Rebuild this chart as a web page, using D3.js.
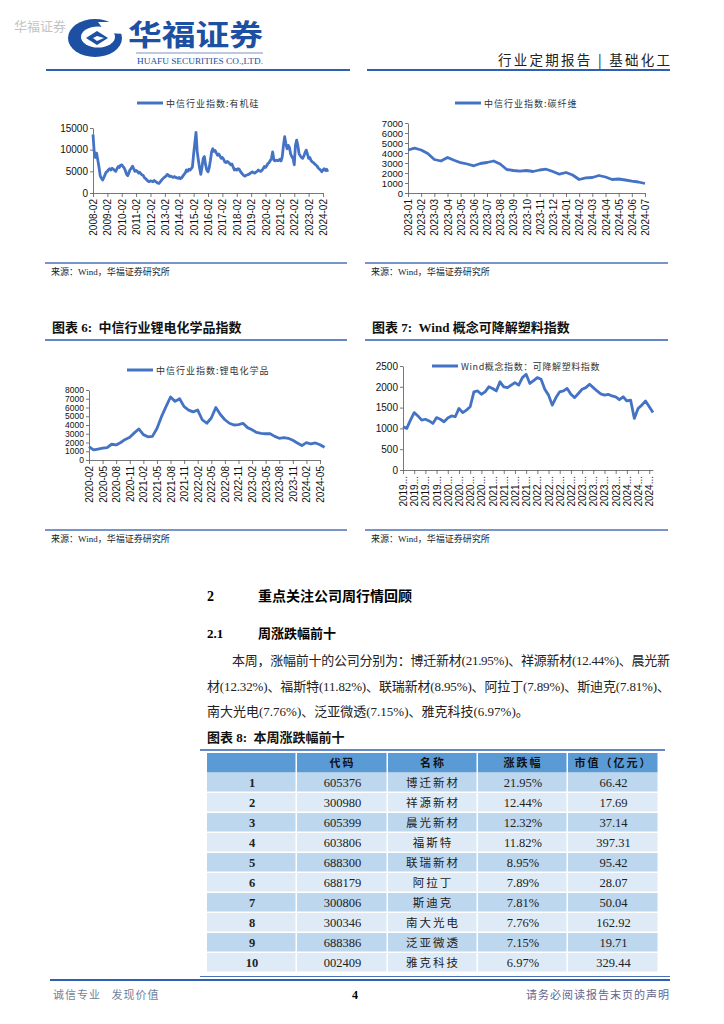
<!DOCTYPE html>
<html>
<head>
<meta charset="utf-8">
<script src="https://cdn.jsdelivr.net/npm/d3@7"></script>
<style>
  body { margin: 0; background: #fff; }
  svg { display: block; }
  text { white-space: pre; }
</style>
</head>
<body>
<script>
// ---- 数据 ----
// 有机硅 (月度, 2008-02 起)
var organicVals = [
  13500, 9500, 8200, 9200, 7600, 6000, 4000, 3400, 3000, 3500, 4200,
  4800, 5000, 5400, 5600, 5300, 5700, 5500, 5200, 5000, 5600, 6100, 5900,
  6400, 6500, 6100, 5800, 5200, 4300, 4000, 4700, 5400, 5700, 6200, 5600,
  5000, 5200, 5000, 4600, 4800, 4400, 4200, 4000, 3500, 3300, 3000, 2700,
  2600, 2800, 2700, 2600, 2900, 2700, 2500, 2300, 2200, 2500, 2900, 3200,
  3500, 3700, 3900, 4300, 4100, 3800, 3900, 3700, 3600, 3800, 3600, 3500,
  3400, 3600, 3300, 3500, 3900, 4300, 4600, 5300, 5000, 5500, 5300, 5600,
  6000, 9000, 11500, 14000, 9500, 7500, 5700, 4300, 6000, 8000, 8400, 6500,
  5300, 4900, 5800, 7500, 9500, 10200, 9600, 9800, 9200, 8700, 9000, 8500,
  8000, 8200, 7800, 7200, 7000, 7300, 7100, 6800, 6500, 6700, 6000, 5300,
  5500, 5300, 5600, 5500, 5000, 4600, 4300, 4000, 3900, 4100, 4200, 4300,
  4500, 4700, 4900, 4700, 4600, 4800, 5000, 5300, 5100, 5000, 5200, 5600,
  6100, 5900, 6300, 6800, 7000, 7500, 8000, 9500, 7600, 7400, 7600, 7500,
  7500, 7800, 7400, 8400, 11000, 13000, 11400, 10200, 11000, 10500, 9000, 8400,
  8000, 6500, 11000, 12200, 11000, 9100, 8600, 8200, 8000, 8500, 9300, 9900,
  9000, 8000, 8200, 7500, 7200, 7000, 6700, 6500, 6200, 5800, 5500, 5300,
  4900, 5300, 5600, 5200, 5500, 4900
];
var organicLabels = ['2008-02', '2009-02', '2010-02', '2011-02', '2012-02', '2013-02', '2014-02', '2015-02',
  '2016-02', '2017-02', '2018-02', '2019-02', '2020-02', '2021-02', '2022-02', '2023-02', '2024-02'];
var organicTicks = [0, 5000, 10000, 15000];

// 碳纤维 (半月, 2023-01 起)
var carbonVals = [
  4300, 4480, 4300, 3950, 3350, 3200, 3550, 3280, 3030, 2900, 2720, 2950,
  3050, 3200, 2900, 2350, 2250, 2180, 2250, 2150, 2300, 2380, 2150, 1880,
  2050, 1800, 1350, 1520, 1550, 1750, 1600, 1350, 1400, 1300, 1180, 1100, 950
];
var carbonLabels = ['2023-01', '2023-02', '2023-03', '2023-04', '2023-05', '2023-06', '2023-07', '2023-08',
  '2023-09', '2023-10', '2023-11', '2023-12', '2024-01', '2024-02', '2024-03', '2024-04', '2024-05',
  '2024-06', '2024-07'];
var carbonTicks = [0, 1000, 2000, 3000, 4000, 5000, 6000, 7000];

// 锂电化学品 (月度, 2020-02 起)
var lithiumVals = [
  1520, 1150, 1250, 1350, 1420, 1800, 1720, 2000, 2350, 2600, 3100, 3550,
  2900, 2650, 2700, 3600, 4950, 6100, 7200, 6700, 7000, 6100, 5700, 5500,
  5710, 4600, 4200, 4800, 6000, 5200, 4600, 4200, 4000, 4050, 4190, 3700,
  3450, 3150, 3050, 3000, 3000, 2700, 2480, 2550, 2480, 2250, 1950, 1650,
  1980, 1830, 1950, 1750, 1450
];
var lithiumLabels = ['2020-02', '2020-05', '2020-08', '2020-11', '2021-02', '2021-05', '2021-08', '2021-11',
  '2022-02', '2022-05', '2022-08', '2022-11', '2023-02', '2023-05', '2023-08', '2023-11', '2024-02', '2024-05'];
var lithiumTicks = [0, 1000, 2000, 3000, 4000, 5000, 6000, 7000, 8000];

// 可降解塑料 (月度, 2019-01 起)
var plasticVals = [
  1040, 1000, 1200, 1380, 1300, 1200, 1220, 1180, 1120, 1260, 1220, 1160,
  1250, 1300, 1280, 1480, 1380, 1440, 1520, 1880, 1900, 1820, 1880, 2000,
  1960, 1900, 2120, 2000, 1980, 2040, 2100, 2040, 2220, 2300, 2080, 2150,
  2220, 2180, 1940, 1800, 1560, 1740, 1880, 1900, 1960, 1820, 1740, 1840,
  1940, 1980, 2060, 1980, 1900, 1830, 1800, 1820, 1780, 1760, 1690, 1760,
  1660, 1680, 1240, 1480, 1560, 1660, 1520, 1380
];
var plasticLabels = ['2019...', '2019...', '2019...', '2019...', '2020...', '2020...', '2020...', '2020...',
  '2021...', '2021...', '2021...', '2021...', '2022...', '2022...', '2022...', '2022...',
  '2023...', '2023...', '2023...', '2023...', '2024...', '2024...', '2024...'];
var plasticTicks = [0, 500, 1000, 1500, 2000, 2500];

// 表格
var ranks = ['1', '2', '3', '4', '5', '6', '7', '8', '9', '10'];
var codes = ['605376', '300980', '605399', '603806', '688300', '688179', '300806', '300346', '688386', '002409'];
var names = ['博迁新材', '祥源新材', '晨光新材', '福斯特', '联瑞新材', '阿拉丁', '斯迪克', '南大光电', '泛亚微透', '雅克科技'];
var changes = ['21.95%', '12.44%', '12.32%', '11.82%', '8.95%', '7.89%', '7.81%', '7.76%', '7.15%', '6.97%'];
var caps = ['66.42', '17.69', '37.14', '397.31', '95.42', '28.07', '50.04', '162.92', '19.71', '329.44'];
var headers = ['', '代码', '名称', '涨跌幅', '市值（亿元）'];

var serif = '"Liberation Serif", "Noto Sans CJK SC", serif';
var sans = '"Liberation Sans", Arial, sans-serif';
var cjk = '"Noto Sans CJK SC", sans-serif';
var lineColor = '#4472c4';
var blue = '#2f5fb3';
var logoBlue = '#1d4fa3';

var svg = d3.select('body').append('svg')
  .attr('width', 724)
  .attr('height', 1024);

// ---- 页眉 ----
svg.append('text').attr('x', 14).attr('y', 31)
  .style('font-family', cjk).style('font-size', '13px').style('fill', '#c4c4c4')
  .text('华福证券');

var logo = svg.append('g');
logo.append('ellipse').attr('cx', 95).attr('cy', 38).attr('rx', 27).attr('ry', 19).attr('fill', logoBlue);
logo.append('ellipse').attr('cx', 98).attr('cy', 37).attr('rx', 17).attr('ry', 10.5).attr('fill', '#fff');
logo.append('polygon').attr('points', '98,22 126,22 126,34 106,33').attr('fill', '#fff');
logo.append('polygon').attr('points', '86,38 97,31 108,38 97,45').attr('fill', logoBlue);
logo.append('polygon').attr('points', '97,36 104,38 97,41 93,38').attr('fill', '#fff');

svg.append('text').attr('x', 128).attr('y', 46)
  .attr('textLength', 135).attr('lengthAdjust', 'spacingAndGlyphs')
  .style('font-family', cjk).style('font-weight', 'bold').style('font-size', '29px').style('fill', logoBlue)
  .text('华福证券');
svg.append('line').attr('x1', 136).attr('x2', 263).attr('y1', 53).attr('y2', 53)
  .attr('stroke', '#7d93bf').attr('stroke-width', 1);
svg.append('text').attr('x', 137).attr('y', 64)
  .attr('textLength', 126).attr('lengthAdjust', 'spacingAndGlyphs')
  .style('font-family', serif).style('font-size', '8.5px').style('fill', logoBlue)
  .text('HUAFU SECURITIES CO.,LTD.');

svg.append('text').attr('x', 498).attr('y', 65)
  .attr('textLength', 172).attr('lengthAdjust', 'spacing')
  .style('font-family', cjk).style('font-size', '13.5px').style('fill', '#222')
  .text('行业定期报告 | 基础化工');

svg.append('line').attr('x1', 46).attr('x2', 350).attr('y1', 70).attr('y2', 70)
  .attr('stroke', blue).attr('stroke-width', 2);
svg.append('line').attr('x1', 367).attr('x2', 670).attr('y1', 70).attr('y2', 70)
  .attr('stroke', blue).attr('stroke-width', 2);

// ---- 折线图 ----
function lineChart(cfg) {
  var g = svg.append('g');
  var x = d3.scaleLinear().domain(cfg.xDomain).range(cfg.xRange);
  var y = d3.scaleLinear().domain([0, cfg.yTicks[cfg.yTicks.length - 1]]).range(cfg.yRange);

  var ya = g.append('g')
    .attr('transform', 'translate(' + cfg.xRange[0] + ',0)')
    .call(d3.axisLeft(y).tickValues(cfg.yTicks).tickFormat(d3.format('d'))
      .tickSize(3).tickSizeOuter(0).tickPadding(2));

  var xa = g.append('g')
    .attr('transform', 'translate(0,' + cfg.yRange[0] + ')')
    .call(d3.axisBottom(x)
      .tickValues(cfg.xLabels.map(function (d, i) { return i * cfg.labelStep; }))
      .tickFormat(function (d, i) { return cfg.xLabels[i]; })
      .tickSize(4).tickSizeOuter(0));

  xa.selectAll('text')
    .attr('transform', 'rotate(-90)')
    .attr('x', -6).attr('y', 0).attr('dy', '0.35em')
    .style('text-anchor', 'end');

  [ya, xa].forEach(function (a) {
    a.selectAll('path, line').attr('stroke', '#555').attr('stroke-width', 0.8);
    a.selectAll('text').style('font-family', sans).style('font-size', '10px').style('fill', '#111');
  });
  ya.selectAll('text').style('font-size', cfg.yFont + 'px');

  g.append('path')
    .datum(cfg.values)
    .attr('fill', 'none')
    .attr('stroke', lineColor)
    .attr('stroke-width', 2.8)
    .attr('stroke-linejoin', 'round')
    .attr('d', d3.line()
      .x(function (d, i) { return x(i * cfg.step); })
      .y(function (d) { return y(d); }));

  g.append('line')
    .attr('x1', cfg.legend[0]).attr('x2', cfg.legend[0] + 26)
    .attr('y1', cfg.legend[1]).attr('y2', cfg.legend[1])
    .attr('stroke', lineColor).attr('stroke-width', 3);
  g.append('text')
    .attr('x', cfg.legend[0] + 29).attr('y', cfg.legend[1] + 3.5)
    .style('font-family', cjk).style('font-size', '9px').style('letter-spacing', cfg.spacing + 'px')
    .style('fill', '#333')
    .text(cfg.name);
}

lineChart({
  values: organicVals, step: 1, labelStep: 12, xLabels: organicLabels,
  xDomain: [0, 192], xRange: [93, 323], yTicks: organicTicks, yRange: [193, 128], yFont: 10,
  legend: [137, 103], name: '中信行业指数:有机硅', spacing: 1
});
lineChart({
  values: carbonVals, step: 0.5, labelStep: 1, xLabels: carbonLabels,
  xDomain: [0, 18], xRange: [408, 645], yTicks: carbonTicks, yRange: [193, 123], yFont: 9.5,
  legend: [455, 103], name: '中信行业指数:碳纤维', spacing: 1
});
lineChart({
  values: lithiumVals, step: 1, labelStep: 3, xLabels: lithiumLabels,
  xDomain: [0, 51], xRange: [89, 320], yTicks: lithiumTicks, yRange: [460, 390], yFont: 8.5,
  legend: [127, 370], name: '中信行业指数:锂电化学品', spacing: 1
});
lineChart({
  values: plasticVals, step: 1 / 3, labelStep: 1, xLabels: plasticLabels,
  xDomain: [0, 67 / 3], xRange: [403, 653], yTicks: plasticTicks, yRange: [470, 366], yFont: 10,
  legend: [432, 366], name: 'Wind概念指数：可降解塑料指数', spacing: 0.6
});

// 图表标题与来源
function chartTitle(x0, x1, y, label) {
  svg.append('text').attr('x', x0 + 7).attr('y', y)
    .style('font-family', serif).style('font-weight', 'bold').style('font-size', '13px').style('fill', '#111')
    .text(label);
  svg.append('line').attr('x1', x0).attr('x2', x1).attr('y1', y + 8).attr('y2', y + 8)
    .attr('stroke', blue).attr('stroke-width', 1.5);
}
function source(x0, x1, y) {
  svg.append('line').attr('x1', x0).attr('x2', x1).attr('y1', y).attr('y2', y)
    .attr('stroke', '#4a72b8').attr('stroke-width', 1.5);
  svg.append('text').attr('x', x0 + 6).attr('y', y + 12)
    .style('font-family', serif).style('font-size', '9px').style('fill', '#222')
    .text('来源：Wind，华福证券研究所');
}
chartTitle(45, 347, 332, '图表 6:  中信行业锂电化学品指数');
chartTitle(365, 668, 332, '图表 7:  Wind 概念可降解塑料指数');
source(45, 347, 263);
source(365, 668, 263);
source(45, 347, 530);
source(365, 668, 530);

// ---- 正文 ----
svg.append('text').attr('x', 207).attr('y', 601)
  .style('font-family', serif).style('font-weight', 'bold').style('font-size', '14px').text('2');
svg.append('text').attr('x', 258).attr('y', 601)
  .style('font-family', serif).style('font-weight', 'bold').style('font-size', '14px').text('重点关注公司周行情回顾');
svg.append('text').attr('x', 207).attr('y', 638)
  .style('font-family', serif).style('font-weight', 'bold').style('font-size', '13px').text('2.1');
svg.append('text').attr('x', 258).attr('y', 638)
  .style('font-family', serif).style('font-weight', 'bold').style('font-size', '13px').text('周涨跌幅前十');

var para = [
  { x: 232, y: 665, w: 438, t: '本周，涨幅前十的公司分别为：博迁新材(21.95%)、祥源新材(12.44%)、晨光新' },
  { x: 207, y: 691, w: 463, t: '材(12.32%)、福斯特(11.82%)、联瑞新材(8.95%)、阿拉丁(7.89%)、斯迪克(7.81%)、' },
  { x: 207, y: 716, w: 0, t: '南大光电(7.76%)、泛亚微透(7.15%)、雅克科技(6.97%)。' }
];
para.forEach(function (p) {
  var t = svg.append('text').attr('x', p.x).attr('y', p.y)
    .style('font-family', serif).style('font-size', '13px').style('fill', '#222')
    .text(p.t);
  if (p.w) t.attr('textLength', p.w).attr('lengthAdjust', 'spacing');
});

// ---- 表格 ----
chartTitle(200, 665, 742, '图表 8:  本周涨跌幅前十');

var colEdges = [207, 297, 388, 478, 568, 659];
var headTop = 753, headH = 19.5, rowTop = 773, rowH = 20;
var table = svg.append('g');

headers.forEach(function (h, j) {
  table.append('rect')
    .attr('x', colEdges[j]).attr('y', headTop)
    .attr('width', colEdges[j + 1] - colEdges[j] - 1.5).attr('height', headH)
    .attr('fill', '#5b9bd5');
  table.append('text')
    .attr('x', (colEdges[j] + colEdges[j + 1]) / 2).attr('y', headTop + 14)
    .attr('text-anchor', 'middle')
    .style('font-family', cjk).style('font-weight', 'bold').style('font-size', '11px')
    .style('letter-spacing', '2px').style('fill', '#111')
    .text(h);
});

ranks.forEach(function (r, i) {
  var cells = [r, codes[i], names[i], changes[i], caps[i]];
  cells.forEach(function (c, j) {
    table.append('rect')
      .attr('x', colEdges[j]).attr('y', rowTop + i * rowH)
      .attr('width', colEdges[j + 1] - colEdges[j] - 1.5).attr('height', rowH - 1.5)
      .attr('fill', i % 2 === 0 ? '#bdd7ee' : '#deebf7');
    table.append('text')
      .attr('x', (colEdges[j] + colEdges[j + 1]) / 2).attr('y', rowTop + i * rowH + 14)
      .attr('text-anchor', 'middle')
      .style('font-family', j === 2 ? cjk : serif)
      .style('font-weight', j === 0 ? 'bold' : 'normal')
      .style('font-size', j === 2 ? '11.5px' : '12.5px')
      .style('letter-spacing', j === 2 ? '2px' : '0px')
      .style('fill', '#222')
      .text(c);
  });
});

svg.append('line').attr('x1', 200).attr('x2', 670).attr('y1', 976.5).attr('y2', 976.5)
  .attr('stroke', '#4a72b8').attr('stroke-width', 1);

// ---- 页脚 ----
svg.append('line').attr('x1', 50).attr('x2', 670).attr('y1', 980).attr('y2', 980)
  .attr('stroke', blue).attr('stroke-width', 2);
svg.append('text').attr('x', 53).attr('y', 999)
  .style('font-family', cjk).style('font-size', '11px').style('fill', '#6f7f9a').style('letter-spacing', '1px')
  .text('诚信专业   发现价值');
svg.append('text').attr('x', 355).attr('y', 999).attr('text-anchor', 'middle')
  .style('font-family', serif).style('font-weight', 'bold').style('font-size', '12px').text('4');
svg.append('text').attr('x', 670).attr('y', 999).attr('text-anchor', 'end')
  .style('font-family', cjk).style('font-size', '11px').style('fill', '#66668f').style('letter-spacing', '1px')
  .text('请务必阅读报告末页的声明');
</script>
</body>
</html>
